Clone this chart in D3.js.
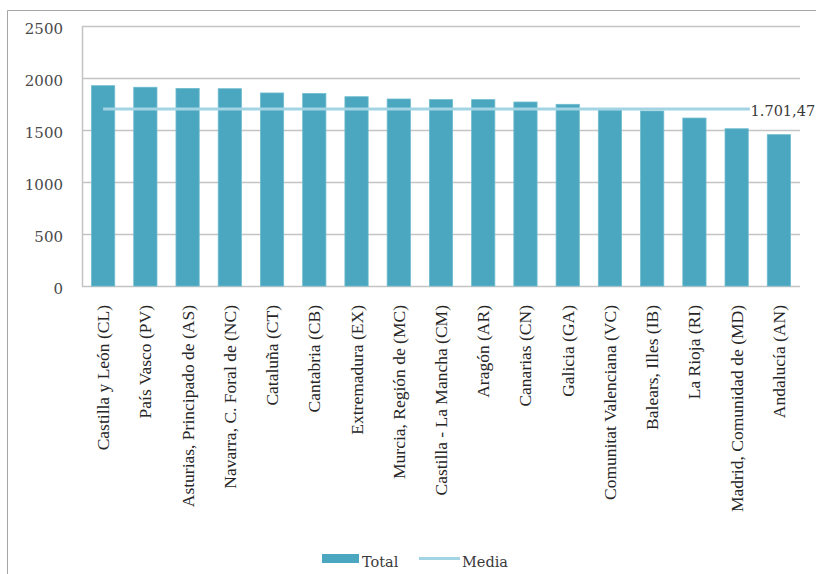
<!DOCTYPE html>
<html>
<head>
<meta charset="utf-8">
<script src="https://cdn.jsdelivr.net/npm/d3@7"></script>
<style>
  html, body { margin: 0; padding: 0; background: #fff; }
  svg { display: block; }
</style>
</head>
<body>
<svg id="chart" width="816" height="574"></svg>
<script>
// Regional totals, sorted from highest to lowest
const categories = [
  "Castilla y León (CL)", "País Vasco (PV)", "Asturias, Principado de (AS)",
  "Navarra, C. Foral de (NC)", "Cataluña (CT)", "Cantabria (CB)",
  "Extremadura (EX)", "Murcia, Región de (MC)", "Castilla - La Mancha (CM)",
  "Aragón (AR)", "Canarias (CN)", "Galicia (GA)", "Comunitat Valenciana (VC)",
  "Balears, Illes (IB)", "La Rioja (RI)", "Madrid, Comunidad de (MD)", "Andalucía (AN)"
];
const totals = [1926, 1911, 1900, 1897, 1856, 1851, 1820, 1798, 1792, 1792, 1769, 1747, 1692, 1683, 1615, 1512, 1455];
const mediaValue = 1701.47;
const mediaLabel = "1.701,47";
const yTicks = [0, 500, 1000, 1500, 2000, 2500];
const legendLabels = ["Total", "Media"];

const barColor = "#4ba6bf";
const lineColor = "#a3d4e3";
const gridColor = "#c4c4c4";

const svg = d3.select("#chart");

// outer frame (left and top edges)
svg.append("path")
  .attr("d", "M7.5,574 V10.5 H816")
  .attr("fill", "none")
  .attr("stroke", "#a6a6a6")
  .attr("stroke-width", 1);

const x = d3.scaleBand().domain(categories).range([82, 800]).padding(0);
const y = d3.scaleLinear().domain([0, 2500]).range([286, 26]);
const barW = x.bandwidth() * 0.55;

// horizontal gridlines
svg.append("g").selectAll("line")
  .data(yTicks)
  .join("line")
  .attr("x1", 82).attr("x2", 800)
  .attr("y1", d => Math.round(y(d)) + 0.5)
  .attr("y2", d => Math.round(y(d)) + 0.5)
  .attr("stroke", gridColor)
  .attr("stroke-width", 1.5);

// vertical axis line
svg.append("line")
  .attr("x1", 82.5).attr("x2", 82.5)
  .attr("y1", y(2500)).attr("y2", y(0) + 1)
  .attr("stroke", gridColor)
  .attr("stroke-width", 1.5);

// y tick labels
svg.append("g").selectAll("text")
  .data(yTicks)
  .join("text")
  .attr("x", 63)
  .attr("y", d => y(d) + 8)
  .attr("text-anchor", "end")
  .attr("font-family", "DejaVu Serif, serif")
  .attr("font-size", 15)
  .attr("fill", "#4a4a4a")
  .text(d => d);

// bars
svg.append("g").selectAll("rect")
  .data(totals)
  .join("rect")
  .attr("x", (d, i) => x(categories[i]) + (x.bandwidth() - barW) / 2)
  .attr("y", d => y(d))
  .attr("width", barW)
  .attr("height", d => y(0) - y(d))
  .attr("fill", barColor)
  .attr("stroke", "#6dbccf")
  .attr("stroke-width", 0.8);

// mean line across all categories
const cx = c => x(c) + x.bandwidth() / 2;
svg.append("line")
  .attr("x1", cx(categories[0]))
  .attr("x2", cx(categories[categories.length - 1]))
  .attr("y1", y(mediaValue))
  .attr("y2", y(mediaValue))
  .attr("stroke", lineColor)
  .attr("stroke-width", 3);

// mean value label on the last point
const lx = cx(categories[categories.length - 1]) + 4;
const ly = y(mediaValue);
svg.append("rect")
  .attr("x", lx - 33).attr("y", ly - 8)
  .attr("width", 66).attr("height", 16)
  .attr("fill", "#fff");
svg.append("text")
  .attr("x", lx)
  .attr("y", ly + 7)
  .attr("text-anchor", "middle")
  .attr("font-family", "DejaVu Serif, serif")
  .attr("font-size", 14.5)
  .attr("fill", "#3a3a3a")
  .text(mediaLabel);

// category labels, rotated
svg.append("g").selectAll("text")
  .data(categories)
  .join("text")
  .attr("transform", d => `translate(${cx(d) + 6},305) rotate(-90)`)
  .attr("text-anchor", "end")
  .attr("font-family", "Liberation Serif, Times New Roman, serif")
  .attr("font-size", 17.5)
  .attr("fill", "#262626")
  .text(d => d);

// legend
const legend = svg.append("g");
legend.append("rect")
  .attr("x", 322).attr("y", 554)
  .attr("width", 37).attr("height", 9)
  .attr("fill", barColor);
legend.append("text")
  .attr("x", 362).attr("y", 567)
  .attr("font-family", "DejaVu Serif, serif")
  .attr("font-size", 14.5)
  .attr("fill", "#3a3a3a")
  .text(legendLabels[0]);
legend.append("line")
  .attr("x1", 419).attr("x2", 460)
  .attr("y1", 558.5).attr("y2", 558.5)
  .attr("stroke", lineColor)
  .attr("stroke-width", 3);
legend.append("text")
  .attr("x", 462).attr("y", 567)
  .attr("font-family", "DejaVu Serif, serif")
  .attr("font-size", 14.5)
  .attr("fill", "#3a3a3a")
  .text(legendLabels[1]);
</script>
</body>
</html>
